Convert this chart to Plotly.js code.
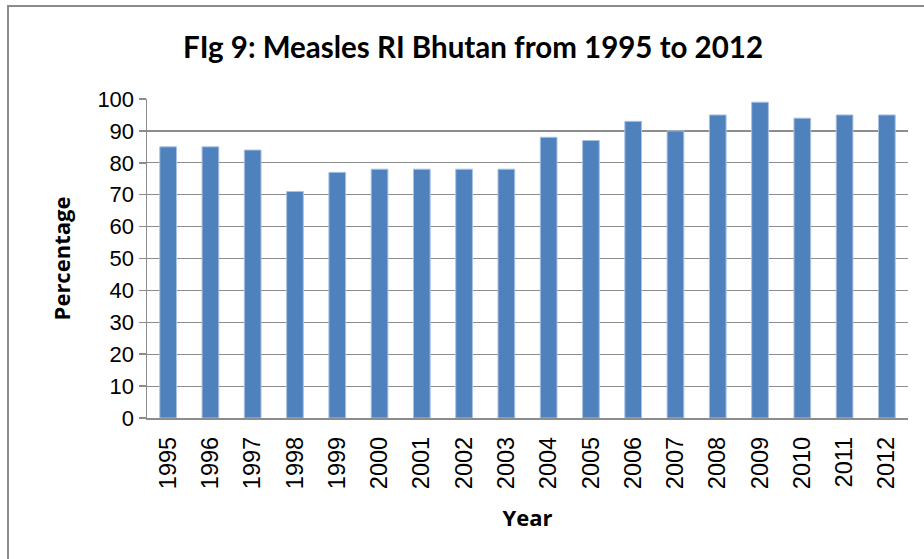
<!DOCTYPE html>
<html>
<head>
<meta charset="utf-8">
<script src="https://cdn.plot.ly/plotly-3.0.1.min.js"></script>
<style>
html,body{margin:0;padding:0;background:#fff;overflow:hidden;}
#chart{position:absolute;left:0;top:0;width:924px;height:559px;}
#frame{position:absolute;left:7px;top:5px;width:940px;height:580px;border:2px solid #8c8c8c;pointer-events:none;box-sizing:border-box;}
</style>
</head>
<body>
<div id="chart"></div>
<div id="frame"></div>
<script>
const years = ["1995","1996","1997","1998","1999","2000","2001","2002","2003","2004","2005","2006","2007","2008","2009","2010","2011","2012"];
const coverage = [85,85,84,71,77,78,78,78,78,88,87,93,90,95,99,94,95,95];
const yTicks = [0,10,20,30,40,50,60,70,80,90,100];

const trace = {
  type: 'bar',
  x: years,
  y: coverage,
  marker: {color: '#4F81BD', line: {color: '#A9C1E2', width: 1}},
  hoverinfo: 'x+y'
};

const layout = {
  width: 924, height: 559,
  margin: {l: 147, r: 16, t: 99, b: 141},
  paper_bgcolor: 'rgba(0,0,0,0)',
  plot_bgcolor: '#fff',
  bargap: 0.605,
  showlegend: false,
  title: {
    text: '<b>FIg 9: Measles RI Bhutan from 1995 to 2012</b>',
    font: {family: 'Lato, "Open Sans", sans-serif', size: 29.5, color: '#000'},
    x: 0.512, xanchor: 'center', y: 0.915, yanchor: 'middle'
  },
  xaxis: {
    type: 'category',
    tickangle: -90,
    tickfont: {family: '"Liberation Sans", Arial, sans-serif', size: 23.5, color: '#000'},
    ticklabelstandoff: 8,
    showline: true, linecolor: '#8c8c8c', linewidth: 1.5,
    ticks: '', showgrid: false,
    title: {text: '<b>Year</b>', font: {family: '"Open Sans", sans-serif', size: 22, color: '#000'}, standoff: 22}
  },
  yaxis: {
    range: [0, 100],
    tickvals: yTicks,
    ticktext: yTicks.map(String),
    tickfont: {family: '"Liberation Sans", Arial, sans-serif', size: 22, color: '#000'},
    showline: true, linecolor: '#8c8c8c', linewidth: 1.5,
    ticks: 'outside', ticklen: 7, tickcolor: '#8c8c8c', tickwidth: 1.5,
    showgrid: true, gridcolor: '#8c8c8c', gridwidth: 1.2,
    zeroline: false,
    title: {text: '<b>Percentage</b>', font: {family: '"Open Sans", sans-serif', size: 22, color: '#000'}, standoff: 20}
  }
};

Plotly.newPlot('chart', [trace], layout, {displayModeBar: false, staticPlot: true});
</script>
</body>
</html>
